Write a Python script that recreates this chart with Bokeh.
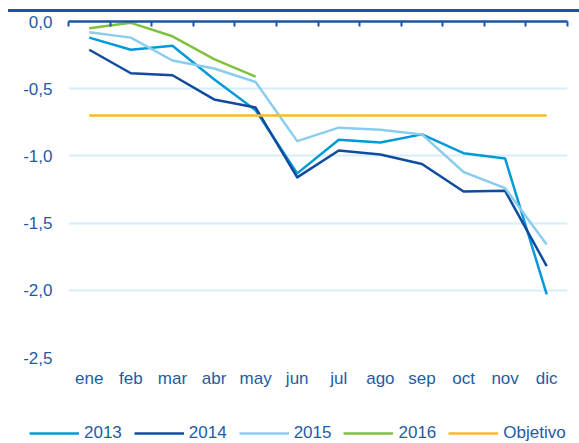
import numpy as np
from bokeh.plotting import figure
from bokeh.models import (LinearAxis, FixedTicker, Range1d, Legend, LegendItem, Grid, Div)
from bokeh.layouts import column
from bokeh.embed import file_html
from bokeh.resources import INLINE

# ---- data ----
months = ["ene", "feb", "mar", "abr", "may", "jun", "jul", "ago", "sep", "oct", "nov", "dic"]
s2013 = [-0.12, -0.21, -0.18, -0.43, -0.66, -1.13, -0.88, -0.90, -0.84, -0.98, -1.02, -2.03]
s2014 = [-0.21, -0.385, -0.40, -0.58, -0.64, -1.16, -0.96, -0.99, -1.06, -1.265, -1.26, -1.82]
s2015 = [-0.08, -0.12, -0.29, -0.35, -0.45, -0.89, -0.79, -0.805, -0.84, -1.12, -1.24, -1.66]
s2016 = [-0.05, -0.01, -0.11, -0.28, -0.41]
objetivo = -0.7
y_ticks = [0.0, -0.5, -1.0, -1.5, -2.0, -2.5]
y_labels = ["0,0", "-0,5", "-1,0", "-1,5", "-2,0", "-2,5"]
series_names = ["2013", "2014", "2015", "2016", "Objetivo"]

# ---- styles ----
TEXT = "#1f5ba6"
AXIS = "#1a55a3"
GRID = "#d5eefa"
COLORS = ["#009ad9", "#0f4c9e", "#8bcdef", "#80c13d", "#fdb92e"]
FONT = "Liberation Sans"
FS = "17px"

W = 579
BAR_H = 12
LEG_H = 28
H = 443 - BAR_H - LEG_H
BL, BR = 68, 12

p = figure(width=W, height=H, x_range=Range1d(0, len(months)), y_range=Range1d(-2.5, 0),
           output_backend="svg", toolbar_location=None,
           x_axis_location=None, y_axis_location=None,
           min_border_left=BL, min_border_right=BR, min_border_top=9, min_border_bottom=58)
p.outline_line_color = None
p.xgrid.visible = False
p.ygrid.visible = False
p.frame_align = False

# y axis (labels only)
yax = LinearAxis(ticker=FixedTicker(ticks=y_ticks),
                 major_label_overrides=dict(zip(y_ticks, y_labels)),
                 axis_line_color=None, major_tick_line_color=None, minor_tick_line_color=None,
                 major_tick_in=0, major_tick_out=0,
                 major_label_standoff=16, major_label_text_font_size=FS,
                 major_label_text_color=TEXT, major_label_text_font=FONT)
p.add_layout(yax, "left")

# horizontal grid
p.add_layout(Grid(dimension=1, ticker=FixedTicker(ticks=y_ticks[1:]),
                  grid_line_color=GRID, grid_line_width=2))

# top axis line with category boundary ticks (no labels)
bounds = list(range(len(months) + 1))
top = LinearAxis(ticker=FixedTicker(ticks=bounds),
                 major_label_overrides={b: "" for b in bounds},
                 major_label_standoff=0,
                 major_tick_in=5, major_tick_out=0,
                 axis_line_color=AXIS, axis_line_width=2.5,
                 major_tick_line_color=AXIS, major_tick_line_width=2,
                 minor_tick_line_color=None)
p.add_layout(top, "above")

# bottom category labels
centers = [i + 0.5 for i in range(len(months))]
bot = LinearAxis(ticker=FixedTicker(ticks=centers),
                 major_label_overrides=dict(zip(centers, months)),
                 axis_line_color=None, major_tick_line_color=None, minor_tick_line_color=None,
                 major_tick_in=0, major_tick_out=0,
                 major_label_standoff=11, major_label_text_font_size=FS,
                 major_label_text_color=TEXT, major_label_text_font=FONT)
p.add_layout(bot, "below")

for vals, col in zip([s2013, s2014, s2015, s2016], COLORS[:4]):
    x = np.arange(len(vals)) + 0.5
    p.line(x, vals, line_color=col, line_width=2.5, line_join="round")
xo = np.arange(len(months)) + 0.5
p.line(xo, [objetivo] * len(months), line_color=COLORS[4], line_width=2.5)

# legend strip (separate figure spanning the full width)
lf = figure(width=W, height=LEG_H, x_range=Range1d(0, 1), y_range=Range1d(0, 1),
            output_backend="svg", toolbar_location=None,
            x_axis_location=None, y_axis_location=None,
            min_border_left=0, min_border_right=0, min_border_top=0, min_border_bottom=0)
lf.outline_line_color = None
lf.xgrid.visible = False
lf.ygrid.visible = False
lf.frame_align = False
leg_renderers = [lf.line(x=[np.nan], y=[np.nan], line_color=c, line_width=2.5) for c in COLORS]
legend = Legend(items=[LegendItem(label=n, renderers=[r]) for n, r in zip(series_names, leg_renderers)],
                orientation="horizontal", location=(29, 0),
                glyph_width=50, glyph_height=20, label_standoff=5, spacing=12,
                padding=0, margin=0, border_line_color=None, background_fill_alpha=0,
                label_text_font_size=FS, label_text_color=TEXT, label_text_font=FONT,
                label_height=20)
lf.add_layout(legend)

# title underline across the top
bar = Div(text='<div style="margin:9px 0 0 8px;width:571px;height:3px;background:%s"></div>' % AXIS,
          width=W, height=BAR_H, margin=0)
layout = column(bar, p, lf, spacing=0)

open("out.html", "w").write(file_html(layout, INLINE))
